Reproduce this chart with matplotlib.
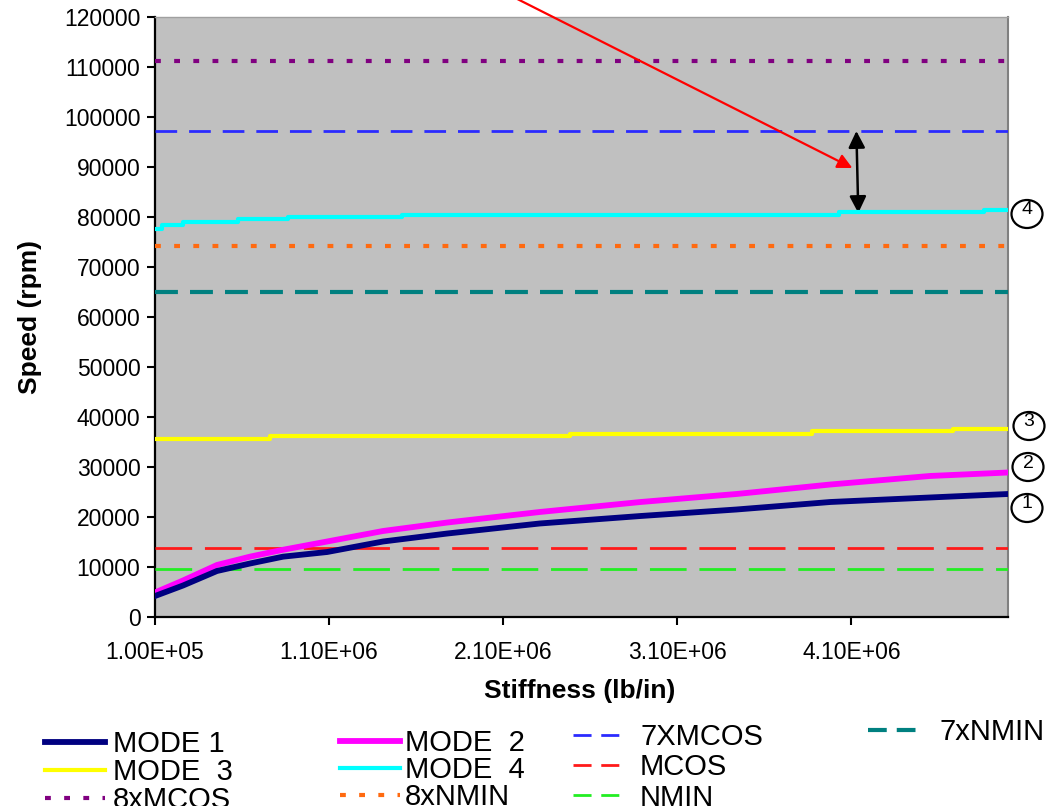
import matplotlib
matplotlib.use("Agg")
import matplotlib.pyplot as plt
from matplotlib.patches import Ellipse
from matplotlib.lines import Line2D
from matplotlib.ticker import FuncFormatter

plt.rcParams['font.family'] = ['Liberation Sans', 'DejaVu Sans']

# ---------------- data ----------------
stiff = [1.00e5, 2.61e5, 4.56e5, 6.46e5, 8.36e5, 1.089e6, 1.41e6, 1.78e6,
         2.31e6, 2.89e6, 3.44e6, 3.98e6, 4.55e6, 5.00e6]
mode1 = [4200, 6300, 9200, 10700, 12070, 13000, 15100, 16700,
         18700, 20200, 21500, 23000, 23900, 24600]
mode2 = [4900, 7300, 10400, 12070, 13450, 15100, 17200, 18900,
         21000, 23000, 24600, 26500, 28200, 28900]

stiff_m3 = [1.00e5, 7.61e5, 2.485e6, 3.876e6, 4.686e6, 5.00e6]
mode3 = [35700, 36300, 36700, 37200, 37600, 37600]

stiff_m4 = [1.00e5, 1.40e5, 2.61e5, 5.77e5, 8.64e5, 1.52e6, 4.03e6, 4.86e6, 5.00e6]
mode4 = [77600, 78400, 79000, 79500, 79900, 80400, 80900, 81400, 81400]

x_range = [1.00e5, 5.00e6]
mcos_8x = 111200
mcos_7x = 97200
nmin_8x = 74100
nmin_7x = 64900
mcos = 13900
nmin = 9600

xticks = [1.00e5, 1.10e6, 2.10e6, 3.10e6, 4.10e6]
yticks = list(range(0, 120001, 10000))

# ---------------- figure ----------------
W, H = 1052, 806
fig = plt.figure(figsize=(W / 100, H / 100), dpi=100)
ax = fig.add_axes([155 / W, 1 - 617 / H, 853 / W, 600 / H])
ax.set_facecolor('#C0C0C0')

h1, = ax.plot(stiff, mode1, color='#000080', lw=4.2, label='MODE 1', zorder=5)
h2, = ax.plot(stiff, mode2, color='#FF00FF', lw=4.2, label='MODE  2', zorder=4)
h3, = ax.plot(stiff_m3, mode3, color='#FFFF00', lw=3.0, drawstyle='steps-post', label='MODE  3', zorder=4)
h4, = ax.plot(stiff_m4, mode4, color='#00FFFF', lw=3.0, drawstyle='steps-post', label='MODE  4', zorder=4)

h5, = ax.plot(x_range, [mcos_7x] * 2, color='#2B2BFF', lw=2.0, ls=(0, (7.8, 4.3)), label='7XMCOS', zorder=3)
h6, = ax.plot(x_range, [nmin_7x] * 2, color='#008080', lw=3.0, ls=(0, (5.5, 2.9)), label='7xNMIN', zorder=3)
h7, = ax.plot(x_range, [mcos_8x] * 2, color='#800080', lw=3.0, ls=(0, (1.4, 3.2)), label='8xMCOS', zorder=3)
h8, = ax.plot(x_range, [nmin_8x] * 2, color='#FF6A10', lw=3.0, ls=(0, (1.4, 3.2)), label='8xNMIN', zorder=3)
h9, = ax.plot(x_range, [mcos] * 2, color='#FF1A1A', lw=2.0, ls=(0, (13.2, 4.6)), label='MCOS', zorder=3)
h10, = ax.plot(x_range, [nmin] * 2, color='#22EE22', lw=2.0, ls=(0, (13.2, 4.6)), label='NMIN', zorder=3)

ax.set_xlim(x_range)
ax.set_ylim(0, 120000)
ax.set_xticks(xticks)
ax.set_yticks(yticks)
ax.xaxis.set_major_formatter(FuncFormatter(lambda v, p: '{:.2E}'.format(v)))
ax.yaxis.set_major_formatter(FuncFormatter(lambda v, p: '{:d}'.format(int(round(v)))))
ax.tick_params(axis='y', direction='out', length=5.5, width=1.5, pad=5, labelsize=16.5)
ax.tick_params(axis='x', direction='out', length=5.5, width=1.5, pad=12, labelsize=16.5)

for s in ['left', 'bottom']:
    ax.spines[s].set_color('black')
    ax.spines[s].set_linewidth(1.6)
ax.spines['top'].set_color('#A0A0A0')
ax.spines['top'].set_linewidth(1.0)
ax.spines['right'].set_color('#808080')
ax.spines['right'].set_linewidth(1.5)

ax.set_xlabel('Stiffness (lb/in)', fontsize=19, fontweight='bold')
ax.set_ylabel('Speed (rpm)', fontsize=19, fontweight='bold')
ax.xaxis.set_label_coords((580 - 155) / 853, (617 - 679) / 600)
ax.yaxis.set_label_coords((42 - 155) / 853, 0.5)

# ---------------- annotations ----------------
ax.annotate('', xy=(4.106e6, 89800), xytext=(2.170e6, 123800),
            arrowprops=dict(arrowstyle='-|>', color='#FF0000', lw=1.6,
                            mutation_scale=22, shrinkA=0, shrinkB=0),
            annotation_clip=False)
ax.annotate('', xy=(4.129e6, 97200), xytext=(4.140e6, 80800),
            arrowprops=dict(arrowstyle='<|-|>,head_length=0.5,head_width=0.25', color='black', lw=1.8,
                            mutation_scale=20, shrinkA=0, shrinkB=0),
            annotation_clip=False)

for num, cx, cy in [('4', 1027, 214), ('3', 1029, 426), ('2', 1028, 467), ('1', 1027, 508)]:
    e = Ellipse((cx / W, 1 - cy / H), width=31 / W, height=28 / H,
                transform=fig.transFigure, fill=False, lw=1.6, color='black')
    fig.add_artist(e)
    fig.text(cx / W, 1 - (cy - 4) / H, num, fontsize=14, ha='center', va='center')

# ---------------- legends ----------------
def proxy(h, pattern):
    return Line2D([], [], color=h.get_color(), lw=h.get_linewidth(), ls=(0, pattern))

p5 = proxy(h5, (6.5, 3.5))
p6 = proxy(h6, (4.5, 2.4))
p9 = proxy(h9, (6.5, 3.5))
p10 = proxy(h10, (6.5, 3.5))

def col_legend(handles, labels, x_px, top_px, handlelength, textpad, spacing):
    fig.legend(handles=handles, labels=labels, loc='upper left',
               bbox_to_anchor=(x_px / W, 1 - top_px / H),
               frameon=False, fontsize=21, borderpad=0, borderaxespad=0,
               labelspacing=spacing, handlelength=handlelength,
               handletextpad=textpad)

col_legend([h1, h3, h7], [h1.get_label(), h3.get_label(), h7.get_label()], 45, 730, 2.05, 0.28, 0.0)
col_legend([h2, h4, h8], [h2.get_label(), h4.get_label(), h8.get_label()], 340, 729, 2.05, 0.17, -0.03)
col_legend([p5, p9, p10], [h5.get_label(), h9.get_label(), h10.get_label()], 573, 723, 1.8, 0.5, 0.08)
col_legend([p6], [h6.get_label()], 868, 718, 1.95, 0.5, 0.0)

fig.savefig('out.png', dpi=100, facecolor='white')
